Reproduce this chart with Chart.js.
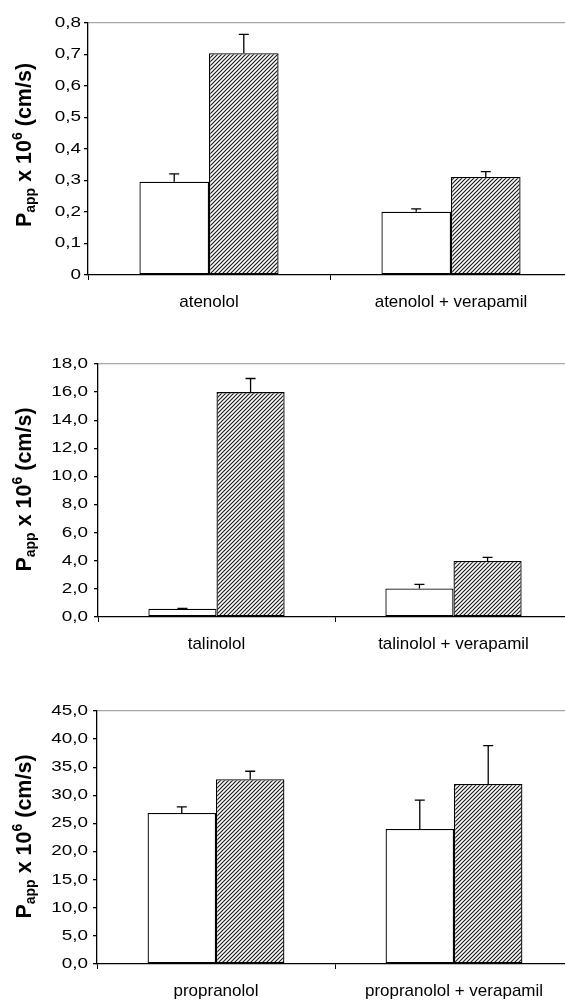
<!DOCTYPE html>
<html>
<head>
<meta charset="utf-8">
<script src="https://cdn.jsdelivr.net/npm/chart.js@4.4.1/dist/chart.umd.min.js"></script>
<style>
    html, body { margin: 0; padding: 0; background: #fff; overflow: hidden; width: 565px; height: 1001px; }
    canvas { position: absolute; left: 0; }
</style>
</head>
<body>
<canvas id="chartAtenolol" width="572" height="320" style="top:0px"></canvas>
<canvas id="chartTalinolol" width="572" height="325" style="top:335px"></canvas>
<canvas id="chartPropranolol" width="573" height="316" style="top:685px"></canvas>
<script>
// Data per panel (Papp x 10^6, cm/s)
const atenololLabels = ['atenolol', 'atenolol + verapamil'];
const atenololWhite = [0.296, 0.201];
const atenololWhiteErr = [0.025, 0.009];
const atenololHatched = [0.704, 0.311];
const atenololHatchedErr = [0.060, 0.017];
const atenololTicks = { max: 0.8, step: 0.1 };

const talinololLabels = ['talinolol', 'talinolol + verapamil'];
const talinololWhite = [0.59, 2.03];
const talinololWhiteErr = [0.03, 0.29];
const talinololHatched = [16.0, 3.98];
const talinololHatchedErr = [0.97, 0.26];
const talinololTicks = { max: 18, step: 2 };

const propranololLabels = ['propranolol', 'propranolol + verapamil'];
const propranololWhite = [26.86, 24.0];
const propranololWhiteErr = [1.07, 5.16];
const propranololHatched = [32.85, 32.02];
const propranololHatchedErr = [1.43, 6.81];
const propranololTicks = { max: 45, step: 5 };

const FONT = 'Arial, "Liberation Sans", sans-serif';

// diagonal hatch fill
function makeHatch() {
    const size = 4;
    const c = document.createElement('canvas');
    c.width = size;
    c.height = size;
    const g = c.getContext('2d');
    g.fillStyle = '#fff';
    g.fillRect(0, 0, size, size);
    g.strokeStyle = '#1e1e1e';
    g.lineWidth = 1.2;
    g.beginPath();
    g.moveTo(0, size); g.lineTo(size, 0);
    g.moveTo(-1, 1); g.lineTo(1, -1);
    g.moveTo(size - 1, size + 1); g.lineTo(size + 1, size - 1);
    g.stroke();
    return g.createPattern(c, 'repeat');
}

// upward error bars with a cap
const errorBarPlugin = {
    id: 'errorBars',
    afterDatasetsDraw(chart) {
        const ctx = chart.ctx;
        const y = chart.scales.y;
        ctx.save();
        ctx.strokeStyle = '#000';
        ctx.lineWidth = 1.3;
        chart.data.datasets.forEach((ds, i) => {
            const meta = chart.getDatasetMeta(i);
            meta.data.forEach((bar, j) => {
                const top = y.getPixelForValue(ds.data[j] + ds.errors[j]);
                ctx.beginPath();
                ctx.moveTo(bar.x, bar.y);
                ctx.lineTo(bar.x, top);
                ctx.moveTo(bar.x - 5, top);
                ctx.lineTo(bar.x + 5, top);
                ctx.stroke();
            });
        });
        ctx.restore();
    }
};

// y tick labels, drawn a bit wide like the original export
const yLabelPlugin = {
    id: 'yLabels',
    afterDraw(chart, args, opts) {
        const ctx = chart.ctx;
        const y = chart.scales.y;
        ctx.save();
        ctx.font = '14px ' + FONT;
        ctx.fillStyle = '#000';
        ctx.textAlign = 'right';
        ctx.textBaseline = 'middle';
        y.ticks.forEach((t, i) => {
            const py = y.getPixelForTick(i);
            ctx.save();
            ctx.translate(opts.right, py);
            ctx.scale(1.35, 1);
            ctx.fillText(opts.format(t.value), 0, 0);
            ctx.restore();
        });
        ctx.restore();
    }
};

// rotated y title with sub/superscript
const yTitlePlugin = {
    id: 'yTitle',
    afterDraw(chart, args, opts) {
        const ctx = chart.ctx;
        const area = chart.chartArea;
        const big = 'bold 21.5px ' + FONT;
        const small = 'bold 14px ' + FONT;
        const parts = [
            { t: 'P', f: big, dy: 0 },
            { t: 'app', f: small, dy: 4 },
            { t: ' x 10', f: big, dy: 0 },
            { t: '6', f: small, dy: -9 },
            { t: ' (cm/s)', f: big, dy: 0 }
        ];
        ctx.save();
        let total = 0;
        parts.forEach(p => { ctx.font = p.f; p.w = ctx.measureText(p.t).width; total += p.w; });
        ctx.translate(opts.x, (area.top + area.bottom) / 2 + opts.shift);
        ctx.rotate(-Math.PI / 2);
        ctx.fillStyle = '#000';
        ctx.textBaseline = 'alphabetic';
        let pos = -total / 2;
        parts.forEach(p => {
            ctx.font = p.f;
            ctx.fillText(p.t, pos, p.dy);
            pos += p.w;
        });
        ctx.restore();
    }
};

function createPanel(canvasId, labels, white, whiteErr, hatched, hatchedErr, ticks, layout) {
    const ctx = document.getElementById(canvasId);
    const fmt = v => (ticks.step < 1 && v === 0) ? '0' : v.toFixed(1).replace('.', ',');
    return new Chart(ctx, {
        type: 'bar',
        data: {
            labels: labels,
            datasets: [
                {
                    label: 'white',
                    data: white,
                    errors: whiteErr,
                    backgroundColor: '#fff',
                    borderColor: '#000',
                    borderWidth: 1.3,
                    borderSkipped: false
                },
                {
                    label: 'hatched',
                    data: hatched,
                    errors: hatchedErr,
                    backgroundColor: makeHatch(),
                    borderColor: '#000',
                    borderWidth: 1.3,
                    borderSkipped: false
                }
            ]
        },
        options: {
            responsive: false,
            animation: false,
            categoryPercentage: 0.575,
            barPercentage: 1.0,
            layout: { padding: { top: layout.top, left: 0, right: 0, bottom: 0 } },
            plugins: {
                legend: { display: false },
                tooltip: { enabled: false },
                yTitle: { x: 31, shift: layout.titleShift },
                yLabels: { right: layout.labelRight, format: fmt }
            },
            scales: {
                x: {
                    afterFit: s => { s.height = layout.xHeight; },
                    border: { color: '#000', width: 1.3 },
                    grid: { offset: true, drawOnChartArea: false, color: '#000', tickLength: 5 },
                    ticks: { color: '#000', padding: 12, maxRotation: 0, font: { family: FONT, size: 17 } }
                },
                y: {
                    min: 0,
                    max: ticks.max,
                    afterFit: s => { s.width = layout.axisX; },
                    border: { color: '#000', width: 1.3 },
                    grid: {
                        color: c => (c.tick && c.tick.value === ticks.max) ? '#a8a8a8' : 'rgba(0,0,0,0)',
                        tickColor: '#000',
                        tickLength: 4,
                        lineWidth: 1.3
                    },
                    ticks: { stepSize: ticks.step, display: false }
                }
            }
        },
        plugins: [errorBarPlugin, yLabelPlugin, yTitlePlugin]
    });
}

createPanel('chartAtenolol', atenololLabels, atenololWhite, atenololWhiteErr,
    atenololHatched, atenololHatchedErr, atenololTicks,
    { top: 23, xHeight: 45, axisX: 88, labelRight: 81, titleShift: -4 });
createPanel('chartTalinolol', talinololLabels, talinololWhite, talinololWhiteErr,
    talinololHatched, talinololHatchedErr, talinololTicks,
    { top: 29, xHeight: 43, axisX: 98, labelRight: 88, titleShift: -1 });
createPanel('chartPropranolol', propranololLabels, propranololWhite, propranololWhiteErr,
    propranololHatched, propranololHatchedErr, propranololTicks,
    { top: 26, xHeight: 37, axisX: 97, labelRight: 88, titleShift: -1 });
</script>
</body>
</html>
